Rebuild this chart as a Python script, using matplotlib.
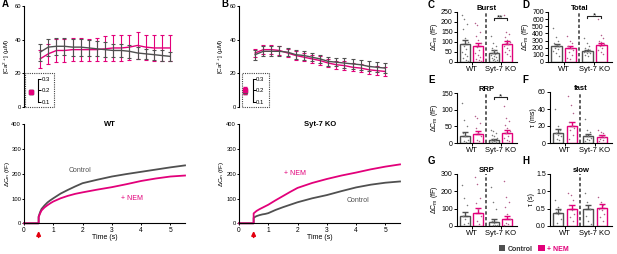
import numpy as np
import matplotlib
matplotlib.use('Agg')
import matplotlib.pyplot as plt
from matplotlib.patches import Rectangle, Patch

plt.rcParams['font.family'] = ['Liberation Sans', 'DejaVu Sans']
plt.rcParams['mathtext.fontset'] = 'custom'
plt.rcParams['mathtext.rm'] = 'Liberation Sans'
plt.rcParams['mathtext.it'] = 'Liberation Sans:italic'
plt.rcParams['axes.linewidth'] = 0.8

GRAY = '#505050'
PINK = '#E2007A'
RED = '#E3000F'

# ---- Ca2+ time course (panels A/B, top) ----
ca_time = [0.55, 0.83, 1.11, 1.38, 1.66, 1.94, 2.22, 2.49, 2.77,
           3.05, 3.33, 3.60, 3.88, 4.16, 4.44, 4.71, 4.99]
ca_wt_ctrl = [32.5, 35.5, 36, 36, 35.5, 35.5, 35, 34.5, 34, 33.5, 33.5, 33, 32, 31.5, 31, 30.5, 30]
ca_wt_ctrl_err = [5, 5, 5, 5, 5, 5, 4.5, 4.5, 4.5, 4, 4, 4, 3.5, 3, 3, 3, 2.5]
ca_wt_nem = [28.5, 31.5, 33.5, 33.5, 34, 34, 34, 34, 34.5, 35, 35, 35.5, 36.5, 35.5, 35, 35, 35]
ca_wt_nem_err = [5.5, 6, 7, 7, 7, 7, 6.5, 7, 7.5, 7.5, 7.5, 7.5, 8, 7.5, 7.5, 7.5, 7.5]
ca_ko_ctrl = [31, 33, 33, 33, 32.5, 31, 30.5, 29.5, 28.5, 27, 26.5, 26, 25.5, 25, 24, 23.5, 23]
ca_ko_ctrl_err = [3, 3, 3, 3, 2.5, 2.5, 2.5, 2.5, 2.5, 2.5, 2.5, 3, 3, 3, 3, 3, 3]
ca_ko_nem = [32, 34, 34, 33.5, 32, 30.5, 29.5, 28.5, 27.5, 26, 25, 24.5, 23.5, 23, 22, 21.5, 21]
ca_ko_nem_err = [2.5, 2.5, 2.5, 2.5, 2.5, 2.5, 2.5, 2.5, 2.5, 2.5, 2.5, 2.5, 2.5, 2.5, 2.5, 2.5, 2.5]

# basal Ca2+ (insets, uM)
base_wt = [0.18, 0.186]
base_wt_err = [0.01, 0.012]
base_ko = [0.19, 0.20]
base_ko_err = [0.02, 0.03]

# ---- capacitance traces (panels A/B, bottom) ----
cm_time = [0, 0.5, 0.5, 0.55, 0.6, 0.7, 0.8, 0.9, 1.0, 1.25, 1.5, 1.75,
           2.0, 2.5, 3.0, 3.5, 4.0, 4.5, 5.0, 5.5]
cm_wt_ctrl = [0, 0, 27, 45, 58, 72, 84, 93, 101, 120, 135, 149, 162, 176, 189, 199, 208, 217, 226, 234]
cm_wt_nem = [0, 0, 25, 40, 52, 64, 73, 81, 88, 101, 111, 119, 125, 136, 146, 158, 171, 181, 189, 193]
cm_ko_ctrl = [0, 0, 22, 26, 29, 33, 36, 38, 41, 54, 65, 75, 85, 101, 114, 130, 145, 156, 164, 169]
cm_ko_nem = [0, 0, 40, 45, 50, 57, 63, 69, 75, 93, 110, 127, 143, 163, 179, 193, 205, 218, 229, 238]

# ---- bar panels C-H: order WT ctrl, WT NEM, KO ctrl, KO NEM ----
burst_mean = [88, 78, 47, 90]
burst_sem = [22, 18, 12, 13]
burst_dots = [[235, 215, 190, 165, 120, 100, 80, 65, 50, 40, 30, 20, 10, 5],
              [195, 185, 150, 130, 110, 95, 75, 60, 45, 35, 25, 15, 10, 5],
              [130, 95, 80, 70, 60, 50, 45, 40, 35, 30, 25, 20, 15, 10, 8, 5],
              [235, 150, 140, 125, 110, 100, 95, 90, 80, 70, 60, 50, 40, 30]]
total_mean = [225, 190, 160, 240]
total_sem = [30, 30, 15, 30]
total_dots = [[480, 350, 300, 260, 240, 220, 200, 180, 150, 120, 90],
              [360, 300, 260, 220, 200, 170, 140, 100, 60, 40],
              [330, 260, 220, 200, 180, 170, 160, 150, 140, 130, 120, 100, 80],
              [600, 380, 340, 300, 280, 250, 230, 200, 170, 140, 110]]
rrp_mean = [22, 27, 10, 30]
rrp_sem = [10, 9, 3, 8]
rrp_dots = [[120, 70, 50, 30, 20, 10, 5, 3],
            [80, 75, 60, 45, 30, 20, 10, 5],
            [40, 35, 30, 25, 20, 15, 12, 10, 8, 5, 3, 2],
            [110, 75, 65, 55, 45, 35, 30, 20, 15, 10, 5]]
fast_mean = [12, 20, 8, 7.5]
fast_sem = [4, 5, 3, 2]
fast_dots = [[40, 20, 15, 12, 10, 8, 5, 3],
             [55, 45, 35, 25, 20, 18, 15, 10, 5],
             [28, 15, 13, 10, 8, 6, 5, 3, 2],
             [15, 13, 12, 10, 8, 7, 5, 3, 2]]
srp_mean = [55, 75, 25, 42]
srp_sem = [25, 28, 15, 18]
srp_dots = [[235, 160, 120, 60, 40, 20, 10],
            [285, 240, 160, 130, 100, 60, 30, 10],
            [225, 140, 100, 30, 15, 8, 5, 3],
            [260, 170, 140, 110, 70, 40, 20, 10, 5]]
slow_mean = [0.38, 0.5, 0.48, 0.53]
slow_sem = [0.1, 0.12, 0.13, 0.1]
slow_dots = [[0.75, 0.55, 0.45, 0.4, 0.35, 0.2, 0.1],
             [0.95, 0.9, 0.75, 0.6, 0.45, 0.35, 0.25, 0.15],
             [0.95, 0.7, 0.5, 0.3, 0.15, 0.05],
             [0.85, 0.7, 0.6, 0.5, 0.45, 0.35, 0.25, 0.15]]

group_labels = ['WT', 'Syt-7 KO']

W, H = 617, 254
fig = plt.figure(figsize=(W / 100, H / 100), dpi=100)


def px_axes(x0, y0, x1, y1):
    return fig.add_axes([x0 / W, 1 - y1 / H, (x1 - x0) / W, (y1 - y0) / H])


def style(ax, size=5, length=2, pad=1):
    for s in ['top', 'right']:
        ax.spines[s].set_visible(False)
    ax.tick_params(labelsize=size, length=length, width=0.7, pad=pad)


def letter(x, y, s):
    fig.text(x / W, 1 - y / H, s, fontsize=7, fontweight='bold', va='center')


# Ca panels
def ca_panel(x0, ctrl, ctrl_err, nem, nem_err, label_x):
    ax = px_axes(x0, 6, x0 + 161, 106.7)
    style(ax, 4.2, 1.5, 0.6)
    ax.spines['bottom'].set_visible(False)
    ax.set_xticks([])
    ax.set_xlim(0, 5.5)
    ax.set_ylim(0, 60)
    ax.set_yticks([0, 20, 40, 60])
    ax.set_ylabel('[Ca$^\\mathregular{2+}$] (µM)', fontsize=4.6)
    ax.yaxis.set_label_coords((label_x - x0) / 161, 0.5)
    ax.errorbar(ca_time, ctrl, yerr=ctrl_err, color=GRAY, lw=1, elinewidth=0.8,
                capsize=1.6, capthick=0.8, zorder=3)
    ax.errorbar(ca_time, nem, yerr=nem_err, color=PINK, lw=1, elinewidth=0.8,
                capsize=1.6, capthick=0.8, zorder=2)
    return ax


def ca_inset(x0, x1, scale_pos, mx, vals, errs):
    ins = px_axes(x0, 73.3, x1, 106.7)
    ins.patch.set_alpha(0)
    for s in ['top', 'bottom', 'left']:
        ins.spines[s].set_visible(False)
    ins.spines['right'].set_position(('axes', scale_pos))
    ins.spines['right'].set_bounds(0.1, 0.3)
    ins.spines['right'].set_linewidth(0.8)
    ins.yaxis.tick_right()
    ins.set_yticks([0.1, 0.2, 0.3])
    ins.set_yticklabels(['0.1', '0.2', '0.3'])
    ins.tick_params(labelsize=4.3, length=2, width=0.7, pad=0.5)
    ins.set_xticks([])
    ins.set_xlim(0, 1)
    ins.set_ylim(0.057, 0.345)
    ins.add_patch(Rectangle((0, 0), 1, 1, transform=ins.transAxes, fill=False,
                            ls=(0, (1, 1)), lw=0.8, ec='#444444', clip_on=False))
    ins.errorbar([mx], [vals[0]], yerr=[errs[0]], fmt='s', color=GRAY, ms=2.5,
                 elinewidth=0.8, capsize=1.5)
    ins.errorbar([mx], [vals[1]], yerr=[errs[1]], fmt='s', color=PINK, ms=2.5,
                 elinewidth=0.8, capsize=1.5)


def cm_panel(x0, ctrl, nem, title, title_x, labels, label_x):
    ax = px_axes(x0, 124.3, x0 + 161, 223.3)
    style(ax, 4.2, 1.5, 0.6)
    ax.set_xlim(0, 5.5)
    ax.set_ylim(0, 400)
    ax.set_yticks([0, 100, 200, 300, 400])
    ax.set_xticks([0, 1, 2, 3, 4, 5])
    ax.tick_params(axis='x', labelsize=4.8, pad=1)
    ax.set_ylabel('ΔC$_\\mathregular{m}$ (fF)', fontsize=4.6)
    ax.yaxis.set_label_coords((label_x - x0) / 161, 0.5)
    ax.set_xlabel('Time (s)', fontsize=5, labelpad=0.5)
    ax.plot(cm_time, ctrl, color=GRAY, lw=1.3, clip_on=False)
    ax.plot(cm_time, nem, color=PINK, lw=1.3, clip_on=False)
    ax.text(title_x, 400, title, fontsize=5.5, fontweight='bold', ha='center', va='center')
    for (tx, ty, s, c) in labels:
        ax.text(tx, ty, s, fontsize=5, color=c, ha='center', va='center')
    ax.annotate('', xy=(0.5, -0.05), xytext=(0.5, -0.17),
                xycoords=ax.get_xaxis_transform(),
                arrowprops=dict(arrowstyle='-|>', color=RED, lw=1.2, mutation_scale=6))
    return ax


ca_panel(24, ca_wt_ctrl, ca_wt_ctrl_err, ca_wt_nem, ca_wt_nem_err, 11.5)
ca_inset(25, 54.3, 0.45, 0.19, base_wt, base_wt_err)
ca_panel(239, ca_ko_ctrl, ca_ko_ctrl_err, ca_ko_nem, ca_ko_nem_err, 226.5)
ca_inset(241.7, 269.3, 0.4, 0.12, base_ko, base_ko_err)

cm_panel(24, cm_wt_ctrl, cm_wt_nem, 'WT', 2.94,
         [(1.91, 215, 'Control', GRAY), (3.69, 102, '+ NEM', PINK)], 11.5)
cm_panel(239, cm_ko_ctrl, cm_ko_nem, 'Syt-7 KO', 2.77,
         [(1.91, 203, '+ NEM', PINK), (4.07, 94, 'Control', GRAY)], 226.5)

letter(2, 4, 'A')
letter(221, 4, 'B')

# bar panels
pos = [0, 1, 2.23, 3.23]
bar_cols = [GRAY, PINK, GRAY, PINK]
dot_cols = ['#7a7a7a', '#b4608c', '#7a7a7a', '#b4608c']


def bar_panel(box, title, ylabel, ylim, yticks, means, sems, dots,
              sig=None, fmt=None):
    ax = px_axes(*box)
    style(ax)
    ax.set_xlim(-0.62, 4.0)
    ax.set_ylim(*ylim)
    ax.set_yticks(yticks)
    if fmt:
        ax.set_yticklabels([fmt % v for v in yticks])
    ax.set_xticks([0.5, 2.73])
    ax.set_xticklabels(group_labels, fontsize=5.5)
    ax.set_ylabel(ylabel, fontsize=5, labelpad=1)
    ax.set_title(title, fontsize=5.5, fontweight='bold', pad=1.5)
    ax.bar(pos, means, width=0.75, facecolor='white', edgecolor=bar_cols,
           lw=1, zorder=2)
    for i in range(4):
        ax.errorbar([pos[i]], [means[i]], yerr=[[0], [sems[i]]], fmt='none',
                    ecolor=bar_cols[i], elinewidth=1, capsize=2, capthick=1, zorder=3)
        n = len(dots[i])
        offs = ((np.arange(n) * 0.381) % 1 - 0.5) * 0.5
        ax.scatter(pos[i] + offs, dots[i], s=1.2, color=dot_cols[i], zorder=4,
                   lw=0, clip_on=False)
    ax.axvline(1.65, color='#444444', ls=(0, (2, 1.4)), lw=1.2, zorder=1)
    if sig:
        y, d, s = sig
        ax.plot([pos[2], pos[2], pos[3], pos[3]], [y - d, y, y, y - d],
                color='#222222', lw=0.8)
        ax.text((pos[2] + pos[3]) / 2, y, s, fontsize=6, ha='center', va='center')
    return ax


dcm = 'ΔC$_\\mathregular{m}$ (fF)'
bar_panel((457, 12, 517, 62), 'Burst', dcm, (0, 250), [0, 50, 100, 150, 200, 250],
          burst_mean, burst_sem, burst_dots, sig=(222, 10, '**'))
bar_panel((548, 12, 612, 62), 'Total', dcm, (0, 700), [0, 100, 200, 300, 400, 500, 600, 700],
          total_mean, total_sem, total_dots, sig=(640, 30, '*'))
bar_panel((457, 93, 517, 143), 'RRP', dcm, (0, 150), [0, 50, 100, 150],
          rrp_mean, rrp_sem, rrp_dots, sig=(138, 7, '*'))
bar_panel((550, 92, 612, 143), 'fast', 'τ (ms)', (0, 60), [0, 20, 40, 60],
          fast_mean, fast_sem, fast_dots)
bar_panel((457, 174, 517, 226), 'SRP', dcm, (0, 300), [0, 100, 200, 300],
          srp_mean, srp_sem, srp_dots)
bar_panel((550, 174, 612, 226), 'slow', 'τ (s)', (0, 1.5), [0, 0.5, 1.0, 1.5],
          slow_mean, slow_sem, slow_dots, fmt='%.1f')

letter(428, 5, 'C')
letter(522, 5, 'D')
letter(428, 80, 'E')
letter(522, 80, 'F')
letter(428, 161, 'G')
letter(522, 161, 'H')

leg = fig.legend(handles=[Patch(fc=GRAY), Patch(fc=PINK)], labels=['Control', '+ NEM'],
                 loc='center', bbox_to_anchor=(534 / W, 1 - 249 / H), ncol=2,
                 frameon=False, prop={'size': 5, 'weight': 'bold'},
                 handlelength=0.9, handleheight=0.9, columnspacing=0.8,
                 handletextpad=0.4)
leg.get_texts()[0].set_color('#333333')
leg.get_texts()[1].set_color(PINK)

fig.savefig('out.png', dpi=100)
